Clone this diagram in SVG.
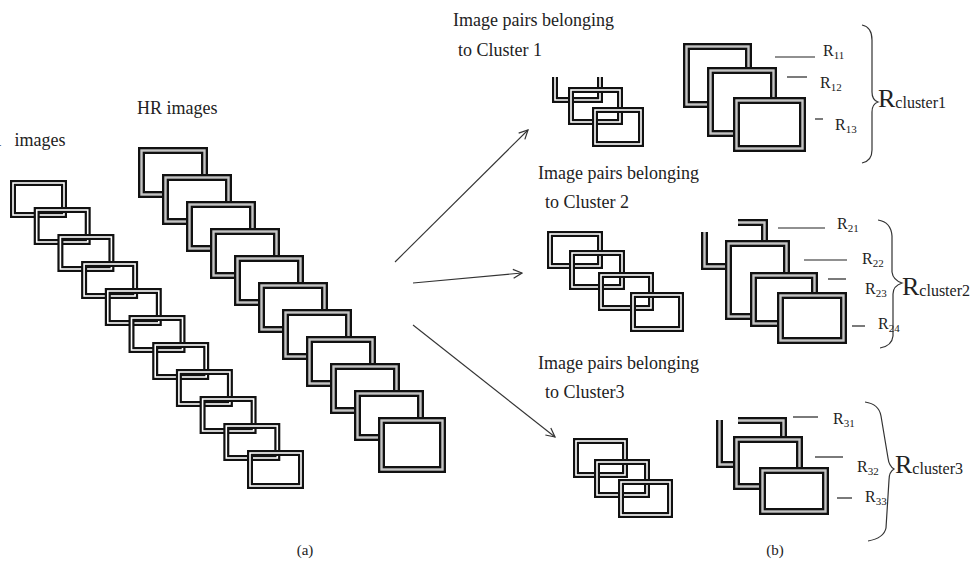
<svg xmlns="http://www.w3.org/2000/svg" width="972" height="570" viewBox="0 0 972 570">
<defs>
<style>
text{font-family:"Liberation Serif","Times New Roman",serif;fill:#222}
.t{font-size:18px}
.lbl{font-size:16px}
.sub{font-size:11px}
.big{font-size:26px}
.bsub{font-size:16px}
.cap{font-size:15px}
.lr{fill:none;stroke:#111;stroke-width:6}
.lrw{fill:none;stroke:#fff;stroke-width:1.6}
.hf{fill:#fff;stroke:#111;stroke-width:7}
.hp{fill:none;stroke:#111;stroke-width:7}
.hg{fill:none;stroke:#c4c4c4;stroke-width:2.4}
.tick{stroke:#222;stroke-width:1.2}
.br{fill:none;stroke:#333;stroke-width:1.2}
.arr{fill:none;stroke:#333;stroke-width:1.1;marker-end:url(#ah)}
</style>
<marker id="ah" viewBox="0 0 10 10" refX="9" refY="5" markerWidth="11" markerHeight="11" markerUnits="userSpaceOnUse" orient="auto">
<path d="M1,1 L9,5 L1,9" fill="none" stroke="#333" stroke-width="1.1"/>
</marker>
</defs>
<rect width="972" height="570" fill="#fff"/>

<!-- LR stack -->
<g id="lr-images">
<text class="t" x="-22" y="146" word-spacing="9">LR images</text>
<g id="lr-frames">
<rect class="lr" x="13" y="183" width="51" height="32"/><rect class="lrw" x="13" y="183" width="51" height="32"/>
<rect class="lr" x="36.7" y="210" width="51" height="32"/><rect class="lrw" x="36.7" y="210" width="51" height="32"/>
<rect class="lr" x="60.4" y="237" width="51" height="32"/><rect class="lrw" x="60.4" y="237" width="51" height="32"/>
<rect class="lr" x="84.1" y="264" width="51" height="32"/><rect class="lrw" x="84.1" y="264" width="51" height="32"/>
<rect class="lr" x="107.8" y="291" width="51" height="32"/><rect class="lrw" x="107.8" y="291" width="51" height="32"/>
<rect class="lr" x="131.5" y="318" width="51" height="32"/><rect class="lrw" x="131.5" y="318" width="51" height="32"/>
<rect class="lr" x="155.2" y="345" width="51" height="32"/><rect class="lrw" x="155.2" y="345" width="51" height="32"/>
<rect class="lr" x="178.9" y="372" width="51" height="32"/><rect class="lrw" x="178.9" y="372" width="51" height="32"/>
<rect class="lr" x="202.6" y="399" width="51" height="32"/><rect class="lrw" x="202.6" y="399" width="51" height="32"/>
<rect class="lr" x="226.3" y="426" width="51" height="32"/><rect class="lrw" x="226.3" y="426" width="51" height="32"/>
<rect class="lr" x="250" y="453" width="51" height="33"/><rect class="lrw" x="250" y="453" width="51" height="33"/>
</g>
</g>

<!-- HR stack -->
<g id="hr-images">
<text class="t" x="137" y="114">HR images</text>
<g id="hr-frames">
<rect class="hf" x="141.5" y="150.5" width="63" height="44"/><rect class="hg" x="141.5" y="150.5" width="63" height="44"/>
<rect class="hf" x="165.5" y="177.5" width="63" height="44"/><rect class="hg" x="165.5" y="177.5" width="63" height="44"/>
<rect class="hf" x="189.5" y="204.5" width="63" height="44"/><rect class="hg" x="189.5" y="204.5" width="63" height="44"/>
<rect class="hf" x="213.5" y="231.5" width="63" height="44"/><rect class="hg" x="213.5" y="231.5" width="63" height="44"/>
<rect class="hf" x="237.5" y="258.5" width="63" height="44"/><rect class="hg" x="237.5" y="258.5" width="63" height="44"/>
<rect class="hf" x="261.5" y="285.5" width="63" height="44"/><rect class="hg" x="261.5" y="285.5" width="63" height="44"/>
<rect class="hf" x="285.5" y="312.5" width="63" height="44"/><rect class="hg" x="285.5" y="312.5" width="63" height="44"/>
<rect class="hf" x="309.5" y="339.5" width="63" height="44"/><rect class="hg" x="309.5" y="339.5" width="63" height="44"/>
<rect class="hf" x="333.5" y="366.5" width="63" height="44"/><rect class="hg" x="333.5" y="366.5" width="63" height="44"/>
<rect class="hf" x="357.5" y="393.5" width="63" height="44"/><rect class="hg" x="357.5" y="393.5" width="63" height="44"/>
<rect class="hf" x="381.5" y="420.5" width="61" height="49"/><rect class="hg" x="381.5" y="420.5" width="61" height="49"/>
</g>
</g>

<!-- Connectors -->
<g id="connectors">
<line class="arr" x1="395" y1="262" x2="528" y2="130"/>
<line class="arr" x1="413" y1="283" x2="522" y2="273"/>
<line class="arr" x1="413" y1="325" x2="555" y2="437"/>
</g>

<!-- Cluster 1 -->
<g id="cluster1-pairs">
<text class="t"><tspan x="453" y="26">Image pairs belonging</tspan><tspan x="458" y="56">to Cluster 1</tspan></text>
<path class="lr" d="M555,77 V100 H600 V77"/><path class="lrw" d="M555,77 V100 H600 V77"/>
<rect class="lr" x="571" y="90" width="49" height="32"/><rect class="lrw" x="571" y="90" width="49" height="32"/>
<rect class="lr" x="595" y="110" width="46" height="34"/><rect class="lrw" x="595" y="110" width="46" height="34"/>
</g>
<g id="cluster1-hr">
<rect class="hf" x="686.5" y="46.5" width="62" height="58"/><rect class="hg" x="686.5" y="46.5" width="62" height="58"/>
<rect class="hf" x="710.5" y="70.5" width="63" height="63"/><rect class="hg" x="710.5" y="70.5" width="63" height="63"/>
<rect class="hf" x="736.5" y="100.5" width="66" height="48"/><rect class="hg" x="736.5" y="100.5" width="66" height="48"/>
<line class="tick" x1="775" y1="57" x2="815" y2="57"/>
<line class="tick" x1="787" y1="77" x2="807" y2="77"/>
<line class="tick" x1="815" y1="119" x2="823" y2="119"/>
<text class="lbl" x="823" y="56">R<tspan class="sub" dy="3">11</tspan></text>
<text class="lbl" x="820" y="88">R<tspan class="sub" dy="3">12</tspan></text>
<text class="lbl" x="835" y="130">R<tspan class="sub" dy="3">13</tspan></text>
<path class="br" d="M862,25 Q872,27 872,40 V92 Q872,100 878,102 Q872,104 872,112 V150 Q872,161 862,163"/>
<text class="big" x="878" y="107">R<tspan class="bsub" dy="1">cluster1</tspan></text>
</g>

<!-- Cluster 2 -->
<g id="cluster2-pairs">
<text class="t"><tspan x="538" y="179">Image pairs belonging</tspan><tspan x="545" y="208">to Cluster 2</tspan></text>
<rect class="lr" x="550" y="234" width="50" height="32"/><rect class="lrw" x="550" y="234" width="50" height="32"/>
<rect class="lr" x="572" y="253" width="50" height="34"/><rect class="lrw" x="572" y="253" width="50" height="34"/>
<rect class="lr" x="601" y="275" width="50" height="33"/><rect class="lrw" x="601" y="275" width="50" height="33"/>
<rect class="lr" x="633" y="295" width="48" height="34"/><rect class="lrw" x="633" y="295" width="48" height="34"/>
</g>
<g id="cluster2-hr">
<path class="hp" d="M704.5,232 V266.5 H727"/><path class="hg" d="M704.5,232 V266.5 H727"/>
<path class="hp" d="M738,222.5 H764.5 V242"/><path class="hg" d="M738,222.5 H764.5 V242"/>
<rect class="hf" x="728.5" y="243.5" width="58" height="73"/><rect class="hg" x="728.5" y="243.5" width="58" height="73"/>
<rect class="hf" x="753.5" y="275.5" width="61" height="48"/><rect class="hg" x="753.5" y="275.5" width="61" height="48"/>
<rect class="hf" x="780.5" y="295.5" width="63" height="45"/><rect class="hg" x="780.5" y="295.5" width="63" height="45"/>
<line class="tick" x1="778" y1="228" x2="825" y2="228"/>
<line class="tick" x1="804" y1="260" x2="847" y2="260"/>
<line class="tick" x1="828" y1="279" x2="846" y2="279"/>
<line class="tick" x1="852" y1="326" x2="865" y2="326"/>
<text class="lbl" x="837" y="229">R<tspan class="sub" dy="3">21</tspan></text>
<text class="lbl" x="862" y="264">R<tspan class="sub" dy="3">22</tspan></text>
<text class="lbl" x="865" y="294">R<tspan class="sub" dy="3">23</tspan></text>
<text class="lbl" x="878" y="329">R<tspan class="sub" dy="3">24</tspan></text>
<path class="br" d="M878,220 Q891,222 892,236 V272 Q893,280 902,283 Q893,286 893,294 V336 Q892,346 880,348"/>
<text class="big" x="902" y="295">R<tspan class="bsub" dy="1">cluster2</tspan></text>
</g>

<!-- Cluster 3 -->
<g id="cluster3-pairs">
<text class="t"><tspan x="538" y="369">Image pairs belonging</tspan><tspan x="545" y="398">to Cluster3</tspan></text>
<rect class="lr" x="576" y="441" width="49" height="34"/><rect class="lrw" x="576" y="441" width="49" height="34"/>
<rect class="lr" x="597" y="462" width="50" height="33"/><rect class="lrw" x="597" y="462" width="50" height="33"/>
<rect class="lr" x="621" y="482" width="49" height="33"/><rect class="lrw" x="621" y="482" width="49" height="33"/>
</g>
<g id="cluster3-hr">
<path class="hp" d="M738,420.5 H783.5 V438"/><path class="hg" d="M738,420.5 H783.5 V438"/>
<path class="hp" d="M719.5,420 V464.5 H735"/><path class="hg" d="M719.5,420 V464.5 H735"/>
<rect class="hf" x="736.5" y="439.5" width="63" height="47"/><rect class="hg" x="736.5" y="439.5" width="63" height="47"/>
<rect class="hf" x="762.5" y="470.5" width="63" height="41"/><rect class="hg" x="762.5" y="470.5" width="63" height="41"/>
<line class="tick" x1="793" y1="417" x2="818" y2="417"/>
<line class="tick" x1="815" y1="457" x2="843" y2="457"/>
<line class="tick" x1="837" y1="498" x2="852" y2="498"/>
<text class="lbl" x="833" y="424">R<tspan class="sub" dy="3">31</tspan></text>
<text class="lbl" x="857" y="472">R<tspan class="sub" dy="3">32</tspan></text>
<text class="lbl" x="865" y="502">R<tspan class="sub" dy="3">33</tspan></text>
<path class="br" d="M865,402 Q879,404 881,416 L888,458 Q889,466 894,469 Q889,472 889,480 L886,528 Q884,538 868,541"/>
<text class="big" x="895" y="473">R<tspan class="bsub" dy="1">cluster3</tspan></text>
</g>

<g id="captions">
<text class="cap" x="305" y="555" text-anchor="middle">(a)</text>
<text class="cap" x="775" y="555" text-anchor="middle">(b)</text>
</g>
</svg>
